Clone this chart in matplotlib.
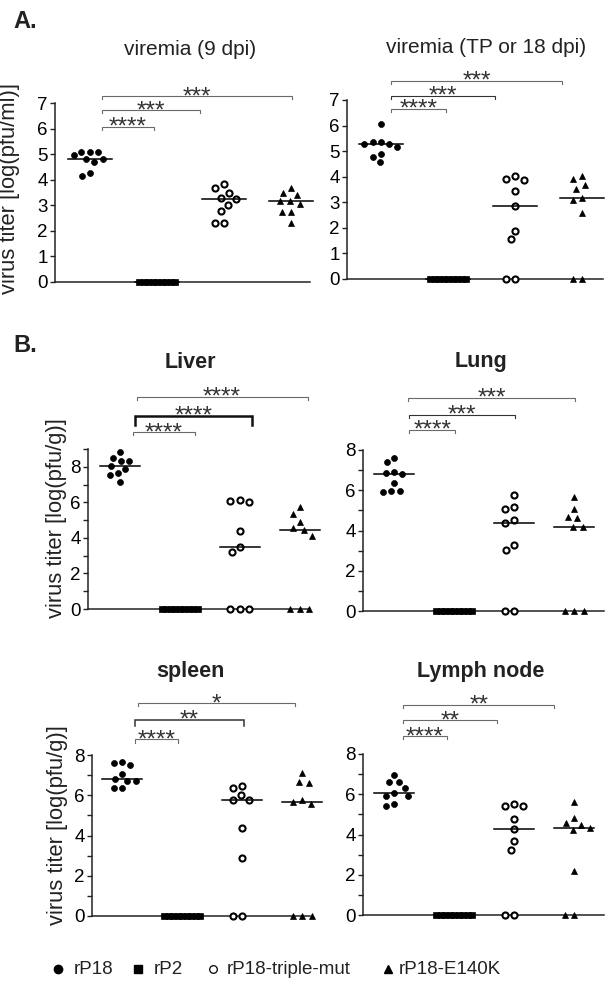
import numpy as np
import matplotlib.pyplot as plt

plt.rcParams['font.family'] = ['Liberation Sans', 'DejaVu Sans']

# === data (log10 titers) ===
groups = ["rP18", "rP2", "rP18-triple-mut", "rP18-E140K"]

vir9 = [[5.10, 5.07, 5.10, 4.97, 4.80, 4.71, 4.80, 4.15, 4.26],
        [0, 0, 0, 0, 0, 0, 0, 0, 0],
        [3.82, 3.67, 3.50, 3.28, 3.24, 3.02, 2.78, 2.32, 2.32],
        [3.69, 3.50, 3.41, 3.15, 3.17, 3.05, 2.72, 2.72, 2.30]]
vir18 = [[6.05, 5.28, 5.37, 5.18, 5.37, 5.28, 4.89, 4.76, 4.56],
         [0, 0, 0, 0, 0, 0, 0, 0, 0],
         [4.04, 3.87, 3.90, 3.45, 2.87, 1.89, 1.56, 0, 0],
         [3.91, 4.04, 3.68, 3.51, 3.09, 3.18, 2.57, 0, 0]]
liver = [[8.82, 8.32, 8.52, 8.32, 8.06, 7.90, 7.63, 7.53, 7.12],
         [0, 0, 0, 0, 0, 0, 0, 0, 0],
         [6.07, 6.04, 6.13, 4.41, 3.48, 3.20, 0, 0, 0],
         [5.71, 5.33, 4.92, 4.45, 4.55, 4.13, 0, 0, 0]]
lung = [[7.60, 7.40, 6.93, 6.80, 6.85, 6.38, 5.98, 5.89, 5.97],
        [0, 0, 0, 0, 0, 0, 0, 0, 0],
        [5.76, 5.15, 5.05, 4.51, 4.38, 3.30, 3.02, 0, 0],
        [5.68, 5.05, 4.68, 4.60, 4.18, 4.18, 0, 0, 0]]
spleen = [[7.67, 7.50, 7.59, 7.04, 6.71, 6.80, 6.71, 6.34, 6.37],
          [0, 0, 0, 0, 0, 0, 0, 0, 0],
          [6.34, 6.47, 6.00, 5.76, 5.76, 4.38, 2.89, 0, 0],
          [7.13, 6.60, 6.68, 5.66, 5.57, 5.77, 0, 0, 0]]
lymph = [[6.96, 6.60, 6.63, 6.30, 6.05, 5.92, 5.92, 5.42, 5.52],
         [0, 0, 0, 0, 0, 0, 0, 0, 0],
         [5.53, 5.40, 5.40, 4.78, 4.27, 3.66, 3.21, 0, 0],
         [5.61, 4.82, 4.49, 4.57, 4.20, 4.32, 2.17, 0, 0]]

stars_vir9 = ["****", "***", "***"]
stars_vir18 = ["****", "***", "***"]
stars_liver = ["****", "****", "****"]
stars_lung = ["****", "***", "***"]
stars_spleen = ["****", "**", "*"]
stars_lymph = ["****", "**", "**"]

# === layout ===
W, H = 616, 991
fig = plt.figure(figsize=(W / 100, H / 100), dpi=100)

styles = [dict(marker='o', mfc='black', mec='black', ms=4.3, mew=0.5),
          dict(marker='s', mfc='black', mec='black', ms=3.8, mew=0.5),
          dict(marker='o', mfc='white', mec='black', ms=4.4, mew=1.5),
          dict(marker='^', mfc='black', mec='black', ms=4.6, mew=0.5)]
spacing = [8.5, 4.5, 9.5, 9.5]   # px between swarm neighbours


def swarm(vals, ppu_x, ppu_y, d):
    order = np.argsort(vals)[::-1]
    placed = []
    offs = np.zeros(len(vals))
    for i in order:
        y = vals[i] * ppu_y
        cands = [0.0]
        for px, py in placed:
            dy = y - py
            if abs(dy) < d:
                dx = np.sqrt(d * d - dy * dy)
                cands += [px + dx, px - dx]
        cands.sort(key=lambda c: (abs(c), c))
        for c in cands:
            if all((c - px) ** 2 + (y - py) ** 2 >= d * d - 1e-6 for px, py in placed):
                break
        placed.append((c, y))
        offs[i] = c / ppu_x
    return offs


def panel(box, xlim, ylim, data, major, minor, brk, stars, title, tpos, tbold,
          ylabel, lpos):
    x0, x1, ytop, ybot = box
    ax = fig.add_axes([x0 / W, 1 - ybot / H, (x1 - x0) / W, (ybot - ytop) / H])
    ax.set_xlim(*xlim)
    ax.set_ylim(*ylim)
    ppu_x = (x1 - x0) / (xlim[1] - xlim[0])
    ppu_y = (ybot - ytop) / (ylim[1] - ylim[0])

    for g, vals in enumerate(data):
        vals = np.array(vals, dtype=float)
        offs = swarm(vals, ppu_x, ppu_y, spacing[g])
        ax.plot(g + offs, vals, ls='none', clip_on=False, zorder=3, **styles[g])
        med = np.median(vals)
        ax.plot([g - 0.33, g + 0.33], [med, med], color='black', lw=1.1,
                clip_on=False, zorder=4)

    for spine in ['top', 'right']:
        ax.spines[spine].set_visible(False)
    for spine in ['left', 'bottom']:
        ax.spines[spine].set_linewidth(1.1)
        ax.spines[spine].set_color('#222222')
    ax.set_xticks([])
    ax.set_yticks(major)
    ax.set_yticks(minor, minor=True)
    ax.tick_params(axis='y', which='both', direction='out', length=3.8,
                   width=1.0, color='#222222', labelsize=13.5, pad=1.5)

    # significance brackets
    for (bx0, bx1, by, leg, lw, col), s in zip(brk, stars):
        dleg = leg / ppu_y
        ax.plot([bx0, bx0, bx1, bx1], [by - dleg, by, by, by - dleg],
                color=col, lw=lw, clip_on=False, solid_joinstyle='miter')
        ax.annotate(s, xy=((bx0 + bx1) / 2, by), xytext=(0, -5.0),
                    textcoords='offset points', ha='center', va='baseline',
                    fontsize=17.5, color='#333333', annotation_clip=False)

    ax.text(tpos[0], tpos[1], title, transform=ax.transAxes, ha='center',
            va='center', fontsize=15.5 if tbold else 15,
            fontweight='bold' if tbold else 'normal', color='#222222')
    if ylabel:
        ax.set_ylabel(ylabel, fontsize=15.8, color='#222222', va='center')
        ax.yaxis.set_label_coords(*lpos)
    return ax


thin = '#6a6a6a'
# panel A
panel((55, 310, 103, 282), (-0.52, 3.28), (0, 7), vir9, range(0, 8), [],
      [(0.18, 0.955, 6.08, 3, 0.8, thin), (0.18, 1.64, 6.71, 3, 0.8, thin),
       (0.18, 3.01, 7.26, 3, 0.8, thin)], stars_vir9,
      "viremia (9 dpi)", (0.53, 1.30), False,
      "virus titer [log(pfu/ml)]", (-0.18, 0.525))
panel((347, 603, 100, 279), (-0.51, 3.31), (0, 7), vir18, range(0, 8), [],
      [(0.15, 0.97, 6.65, 3, 0.8, thin), (0.15, 1.70, 7.17, 3, 0.8, '#333333'),
       (0.15, 2.70, 7.74, 3, 0.8, thin)], stars_vir18,
      "viremia (TP or 18 dpi)", (0.545, 1.295), False, None, None)

# panel B
panel((88, 310, 449, 609), (-0.53, 3.17), (0, 9), liver, [0, 2, 4, 6, 8],
      [1, 3, 5, 7, 9],
      [(0.22, 1.25, 9.94, 3, 0.8, thin), (0.25, 2.2, 10.86, 9, 1.8, '#111111'),
       (0.28, 3.13, 11.93, 3, 0.8, thin)], stars_liver,
      "Liver", (0.46, 1.54), True, "virus titer [log(pfu/g)]", (-0.14, 0.57))
panel((363, 604, 450, 611), (-0.52, 3.5), (0, 8), lung, [0, 2, 4, 6, 8],
      [1, 3, 5, 7],
      [(0.25, 1.02, 9.0, 3, 0.8, thin), (0.25, 2.02, 9.74, 3, 0.8, '#333333'),
       (0.23, 3.02, 10.6, 3, 0.8, thin)], stars_lung,
      "Lung", (0.49, 1.55), True, None, None)
panel((92, 310, 755, 916), (-0.5, 3.13), (0, 8), spleen, [0, 2, 4, 6, 8],
      [1, 3, 5, 7],
      [(0.22, 0.93, 8.78, 4, 0.8, thin), (0.22, 2.03, 9.74, 6, 1.1, '#333333'),
       (0.26, 2.88, 10.57, 3, 0.8, thin)], stars_spleen,
      "spleen", (0.45, 1.52), True, "virus titer [log(pfu/g)]", (-0.156, 0.565))
panel((363, 604, 754, 915), (-0.52, 3.5), (0, 8), lymph, [0, 2, 4, 6, 8],
      [1, 3, 5, 7],
      [(0.15, 0.88, 8.87, 3, 0.8, thin), (0.15, 1.72, 9.67, 3, 0.8, thin),
       (0.15, 2.67, 10.45, 3, 0.8, thin)], stars_lymph,
      "Lymph node", (0.49, 1.51), True, None, None)

# panel letters
fig.text(13 / W, 1 - 22 / H, "A.", fontsize=17, fontweight='bold', va='center',
         color='#222222')
fig.text(13 / W, 1 - 345 / H, "B.", fontsize=17, fontweight='bold', va='center',
         color='#222222')

# legend along the bottom
lax = fig.add_axes([0, 0, 1, 1])
lax.set_xlim(0, W)
lax.set_ylim(H, 0)
lax.axis('off')
leg_marker_x = [58, 138, 213, 388]
leg_text_x = [74, 154, 227, 399]
leg_styles = [dict(marker='o', mfc='black', mec='black', ms=6.0),
              dict(marker='s', mfc='black', mec='black', ms=5.2),
              dict(marker='o', mfc='white', mec='black', ms=5.5, mew=0.9),
              dict(marker='^', mfc='black', mec='black', ms=6.0)]
for mx, tx, st, name in zip(leg_marker_x, leg_text_x, leg_styles, groups):
    lax.plot([mx], [969], ls='none', **st)
    lax.text(tx, 969, name, fontsize=13.5, va='center', ha='left',
             color='#222222')

fig.savefig("out.png", dpi=100)
